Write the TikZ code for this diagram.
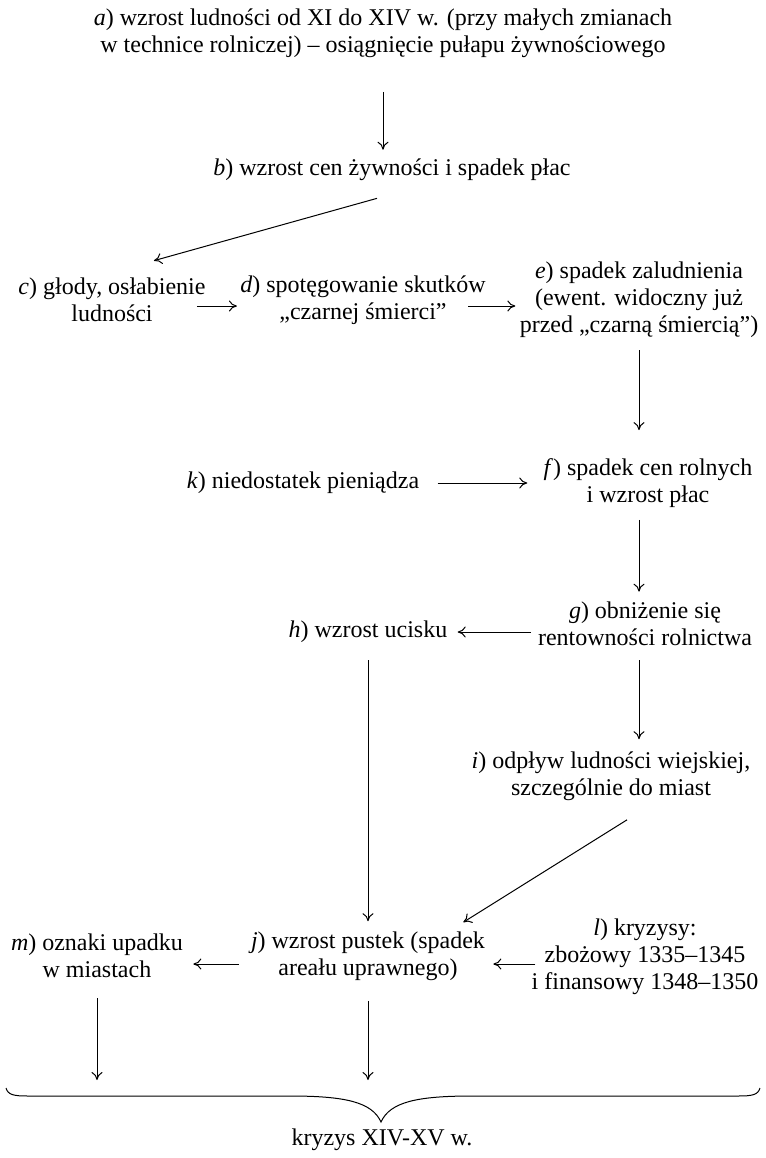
\documentclass[tikz,border=0pt]{standalone}
\usepackage{fontspec}
\setmainfont{Liberation Serif}
\usetikzlibrary{arrows.meta}

\begin{document}
\begin{tikzpicture}[x=0.5pt, y=-0.5pt]
  \useasboundingbox (0, 0) rectangle (766, 1158);  % Rand wie im Original.
  \tikzstyle{txt}=[align=center, inner sep=0pt, font=\fontsize{12}{13.5}\selectfont]
  \tikzstyle{arr}=[-{To[length=4pt, width=5.5pt]}, line width=0.5pt]

  \node[txt] (a) at (383, 33)  {\textit{a}) wzrost ludności od XI do XIV w. (przy małych zmianach\\w technice rolniczej) – osiągnięcie pułapu żywnościowego};
  \node[txt] (b) at (392, 170) {\textit{b}) wzrost cen żywności i spadek płac};
  \node[txt] (c) at (112, 300) {\textit{c}) głody, osłabienie\\ludności};
  \node[txt] (d) at (363, 300) {\textit{d}) spotęgowanie skutków\\„czarnej śmierci”};
  \node[txt] (e) at (639, 300) {\textit{e}) spadek zaludnienia\\(ewent. widoczny już\\przed „czarną śmiercią”)};
  \node[txt] (k) at (303, 483) {\textit{k}) niedostatek pieniądza};
  \node[txt] (f) at (648, 483) {\textit{f}) spadek cen rolnych\\i wzrost płac};
  \node[txt] (g) at (645, 624) {\textit{g}) obniżenie się\\rentowności rolnictwa};
  \node[txt] (h) at (368, 632) {\textit{h}) wzrost ucisku};
  \node[txt] (i) at (611, 776) {\textit{i}) odpływ ludności wiejskiej,\\szczególnie do miast};
  \node[txt] (j) at (368, 956) {\textit{j}) wzrost pustek (spadek\\areału uprawnego)};
  \node[txt] (l) at (645, 957) {\textit{l}) kryzysy:\\zbożowy 1335–1345\\i finansowy 1348–1350};
  \node[txt] (m) at (97, 956)  {\textit{m}) oznaki upadku\\w miastach};
  \node[txt] (kr) at (382, 1140) {kryzys XIV-XV w.};

  % Klammer
  \coordinate (bl)  at (6, 1088);
  \coordinate (br)  at (760, 1088);
  \coordinate (tip) at (381, 1122);
  \draw[line width=0.5pt] (bl) .. controls (8, 1095) and (14, 1096) .. (28, 1096) -- (290, 1096)
    .. controls (345, 1096) and (372, 1102) .. (tip)
    .. controls (390, 1102) and (417, 1096) .. (472, 1096) -- (738, 1096)
    .. controls (752, 1096) and (758, 1095) .. (br);

  \draw[arr, shorten <=17pt, shorten >=4.5pt] (a) -- (a |- b.north);
  \draw[arr] ([shift={(-15, 17)}]b.south) -- ([shift={(-52, -17)}]c.north east);
  \draw[arr] ([shift={(-9, 6)}]c.east) -- ([shift={(-3, 6)}]d.west);
  \draw[arr] ([shift={(-18, 6)}]d.east) -- ([shift={(-4, 6)}]e.west);
  \draw[arr, shorten <=6pt, shorten >=14pt] (e.south) -- (e.south |- f.north);
  \path (k) edge[arr, shorten <=9pt, shorten >=8pt] (f);
  \draw[arr, shorten <=6pt, shorten >=5pt] (f.south -| e) -- (g.north -| e);
  \draw[arr] ([shift={(-7, 8)}]g.west) -- ([shift={(10, 0)}]h.east);
  \draw[arr, shorten <=7pt, shorten >=6pt] (g.south -| e) -- (i.north -| e);
  \draw[arr, shorten <=8.5pt, shorten >=5pt] (h.south -| j.north) -- (j.north);
  \draw[arr] ([shift={(16, 19)}]i.south) -- ([shift={(-22, -9)}]j.north east);
  \draw[arr] ([shift={(4, 7)}]l.west) -- ([shift={(8, 8)}]j.east);
  \draw[arr] ([shift={(-12, 8)}]j.west) -- ([shift={(10, 8)}]m.east);
  \draw[arr, shorten <=10pt, shorten >=4pt] (m.south) -- (m.south |- bl);
  \draw[arr, shorten <=10pt, shorten >=4pt] (j.south) -- (j.south |- bl);
\end{tikzpicture}
\end{document}
